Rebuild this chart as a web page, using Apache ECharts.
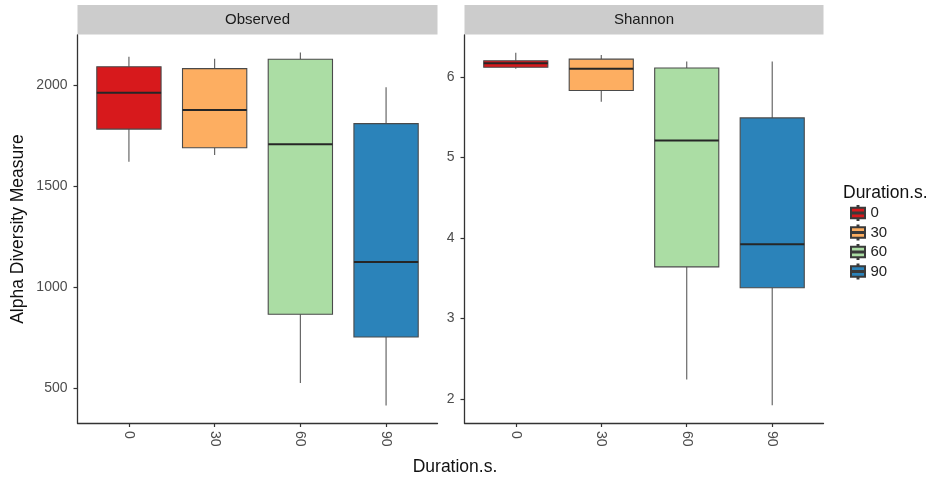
<!DOCTYPE html>
<html>
<head>
<meta charset="utf-8">
<title>Alpha diversity by duration</title>
<script src="https://cdn.jsdelivr.net/npm/echarts@6/dist/echarts.min.js"></script>
<style>
  html, body { margin: 0; padding: 0; background: #fff; }
  #chart { width: 935px; height: 480px; }
</style>
</head>
<body>
<div id="chart"></div>
<script>
// Duration groups (seconds)
const categories = ['0', '30', '60', '90'];
const groupColors = ['#d7191c', '#fdae61', '#abdda4', '#2b83ba'];

// Box statistics per group: [lower whisker, Q1, median, Q3, upper whisker]
const observedStats = [
  [1621, 1782, 1962, 2090, 2140],
  [1654, 1690, 1876, 2081, 2130],
  [528, 867, 1707, 2127, 2160],
  [417, 755, 1125, 1809, 1989]
];
const shannonStats = [
  [6.10, 6.12, 6.17, 6.20, 6.30],
  [5.69, 5.83, 6.10, 6.22, 6.27],
  [2.24, 3.64, 5.21, 6.11, 6.19],
  [1.92, 3.38, 3.92, 5.49, 6.19]
];

// Tick labels
const observedTicks = [500, 1000, 1500, 2000];
const shannonTicks = [2, 3, 4, 5, 6];
const panelTitles = ['Observed', 'Shannon'];

const FONT = '"Liberation Sans", Arial, sans-serif';
const BOX_WIDTH = 0.75;
const tickPositions = categories.map((c, i) => i + 1);

function renderBox(params, api) {
  const x = api.value(0);
  const lo = api.coord([x, api.value(1)]);
  const q1 = api.coord([x, api.value(2)]);
  const med = api.coord([x, api.value(3)]);
  const q3 = api.coord([x, api.value(4)]);
  const hi = api.coord([x, api.value(5)]);
  const half = api.size([BOX_WIDTH, 0])[0] / 2;
  const cx = lo[0];
  const fill = api.visual('color');
  return {
    type: 'group',
    children: [
      { type: 'line', shape: { x1: cx, y1: lo[1], x2: cx, y2: q1[1] },
        style: { stroke: '#5a5a5a', lineWidth: 1.1 } },
      { type: 'line', shape: { x1: cx, y1: q3[1], x2: cx, y2: hi[1] },
        style: { stroke: '#5a5a5a', lineWidth: 1.1 } },
      { type: 'rect', shape: { x: cx - half, y: q3[1], width: half * 2, height: q1[1] - q3[1] },
        style: { fill: fill, stroke: '#4a4a4a', lineWidth: 1.1 } },
      { type: 'line', shape: { x1: cx - half, y1: med[1], x2: cx + half, y2: med[1] },
        style: { stroke: '#262626', lineWidth: 2 } }
    ]
  };
}

function makeXAxis(gridIndex) {
  return {
    type: 'value', gridIndex: gridIndex, min: 0.4, max: 4.6,
    splitLine: { show: false },
    axisLine: { show: true, lineStyle: { color: '#333', width: 1.3 } },
    axisTick: { show: true, customValues: tickPositions, length: 4,
      lineStyle: { color: '#333', width: 1.2 } },
    axisLabel: {
      customValues: tickPositions, rotate: -90, margin: 8,
      formatter: v => categories[Math.round(v) - 1],
      color: '#4d4d4d', fontSize: 14, fontFamily: FONT
    }
  };
}

function makeYAxis(gridIndex, min, max, ticks, name) {
  return {
    type: 'value', gridIndex: gridIndex, min: min, max: max,
    name: name, nameLocation: 'middle', nameRotate: 90, nameGap: 50,
    nameTextStyle: { color: '#111', fontSize: 17.5, fontFamily: FONT },
    splitLine: { show: false },
    axisLine: { show: true, lineStyle: { color: '#333', width: 1.3 } },
    axisTick: { show: true, customValues: ticks, length: 4,
      lineStyle: { color: '#333', width: 1.2 } },
    axisLabel: { customValues: ticks, margin: 10, color: '#4d4d4d',
      formatter: v => String(v),
      fontSize: 14, fontFamily: FONT }
  };
}

const series = [];
[observedStats, shannonStats].forEach((stats, g) => {
  categories.forEach((cat, i) => {
    series.push({
      type: 'custom', name: cat,
      xAxisIndex: g, yAxisIndex: g,
      itemStyle: { color: groupColors[i], borderColor: '#3a3a3a', borderWidth: 0.9 },
      encode: { x: 0, y: [1, 2, 3, 4, 5] },
      renderItem: renderBox,
      clip: false,
      data: [[i + 1].concat(stats[i])]
    });
  });
});

const grids = [
  { left: 77.5, top: 35, width: 360, height: 388 },
  { left: 464.5, top: 35, width: 359, height: 388 }
];

const stripGraphics = grids.map((gr, k) => ({
  type: 'group',
  children: [
    { type: 'rect', shape: { x: gr.left, y: 5, width: gr.width, height: 29.5 },
      style: { fill: '#cccccc' } },
    { type: 'text', x: gr.left + gr.width / 2, y: 20,
      style: { text: panelTitles[k], fill: '#1a1a1a', fontSize: 15, fontFamily: FONT,
        align: 'center', verticalAlign: 'middle' } }
  ]
}));

// Legend key: box split in two so the strokes form a median line, with whisker stubs
const legendKey = 'path://M7,0 L8,0 L8,2 L15,2 L15,7 L0,7 L0,2 L7,2 Z ' +
  'M0,8 L15,8 L15,13 L8,13 L8,15 L7,15 L7,13 L0,13 Z';

const chart = echarts.init(document.getElementById('chart'), null, { renderer: 'canvas' });
chart.setOption({
  animation: false,
  backgroundColor: '#ffffff',
  grid: grids,
  xAxis: [makeXAxis(0), makeXAxis(1)],
  yAxis: [
    makeYAxis(0, 330, 2247, observedTicks, 'Alpha Diversity Measure'),
    makeYAxis(1, 1.70, 6.52, shannonTicks, '')
  ],
  title: [
    { text: 'Duration.s.', left: 450, top: 453, textAlign: 'center',
      textStyle: { color: '#111', fontSize: 17.5, fontWeight: 'normal', fontFamily: FONT } },
    { text: 'Duration.s.', left: 838, top: 179,
      textStyle: { color: '#111', fontSize: 17.5, fontWeight: 'normal', fontFamily: FONT } }
  ],
  legend: {
    orient: 'vertical', left: 845, top: 200,
    data: categories,
    itemWidth: 15, itemHeight: 14, itemGap: 3.5,
    icon: legendKey,
    selectedMode: false,
    textStyle: { color: '#222', fontSize: 15, lineHeight: 15, fontFamily: FONT }
  },
  graphic: stripGraphics,
  series: series
});
</script>
</body>
</html>
